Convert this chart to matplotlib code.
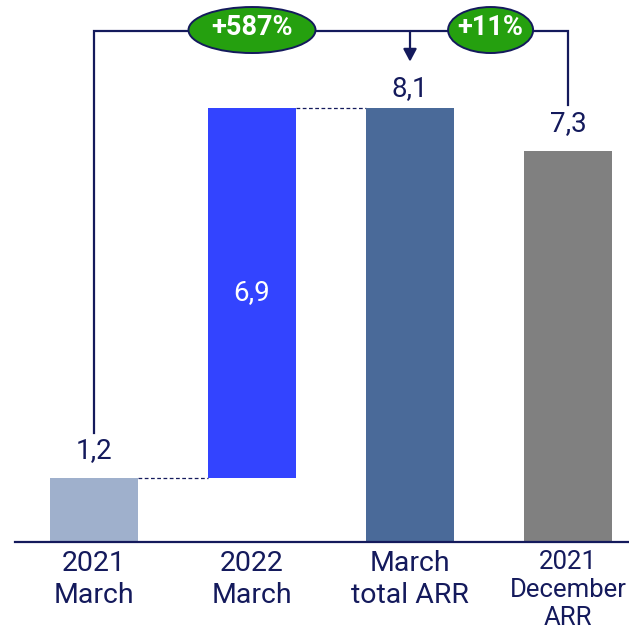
import matplotlib.pyplot as plt
from matplotlib.patches import Ellipse

plt.rcParams['font.family'] = ['Roboto', 'DejaVu Sans']

NAVY = '#141a5c'
GREEN = '#25a00f'

# data
categories = ['2021\nMarch', '2022\nMarch', 'March\ntotal ARR', '2021\nDecember\nARR']
values = [1.2, 6.9, 8.1, 7.3]
bar_colors = ['#9fb0cc', '#3344ff', '#4a6a99', '#808080']
pct_labels = ['+587%', '+11%']

# waterfall: second bar floats on top of the first
bottoms = [0, values[0], 0, 0]
tops = [b + v for b, v in zip(bottoms, values)]
labels = [f'{v:.1f}'.replace('.', ',') for v in values]

fig = plt.figure(figsize=(6.29, 6.28), dpi=100, facecolor='white')
ax = fig.add_axes([15 / 629, 86 / 628, 614 / 629, 542 / 628])
ax.set_xlim(-0.5, 3.386)
ax.set_ylim(0, 10.11)

x = list(range(len(categories)))
w = 0.557
ax.bar(x, values, bottom=bottoms, width=w, color=bar_colors, zorder=2)

# dashed connectors between bars
for i in range(2):
    ax.plot([x[i] + w / 2, x[i + 1] - w / 2], [tops[i], tops[i]],
            color=NAVY, lw=0.9, ls=(0, (3, 2)), zorder=1)

# value labels
offsets = [14, None, 6, 14]
for i, lab in enumerate(labels):
    if offsets[i] is None:
        ax.text(x[i], (bottoms[i] + tops[i]) / 2, lab, color='white',
                fontsize=20, ha='center', va='center', zorder=3)
    else:
        ax.annotate(lab, (x[i], tops[i]), xytext=(0, offsets[i] * 0.72),
                    textcoords='offset points', ha='center', va='bottom',
                    fontsize=20, color=NAVY)

# bracket lines
yb = 9.53
ax.plot([x[0], x[0], x[3], x[3]], [2.03, yb, yb, 8.15],
        color=NAVY, lw=1.6, clip_on=False, zorder=4, solid_joinstyle='miter')
ax.annotate('', xy=(x[2], 8.96), xytext=(x[2], yb),
            arrowprops=dict(arrowstyle='-|>,head_length=0.75,head_width=0.4',
                            color=NAVY, lw=1.6, shrinkA=0, shrinkB=0),
            annotation_clip=False, zorder=4)

# growth ellipses
for cx, ew, txt in [(1.0, 0.804, pct_labels[0]), (2.51, 0.538, pct_labels[1])]:
    e = Ellipse((cx, 9.55), ew, 0.858, facecolor=GREEN, edgecolor=NAVY,
                lw=1.4, clip_on=False, zorder=5)
    ax.add_patch(e)
    ax.text(cx, 9.6, txt, color='white', fontsize=19.5, fontweight='bold',
            ha='center', va='center', zorder=6, clip_on=False)

ax.set_xticks(x)
ax.set_xticklabels(categories, fontsize=20.5, color=NAVY, linespacing=1.2)
ax.get_xticklabels()[-1].set_fontsize(18.5)
ax.tick_params(axis='x', length=0, pad=6)
ax.set_yticks([])
for s in ['top', 'right', 'left']:
    ax.spines[s].set_visible(False)
ax.spines['bottom'].set_color(NAVY)
ax.spines['bottom'].set_linewidth(1.6)

fig.savefig('out.png', dpi=100, facecolor='white')
